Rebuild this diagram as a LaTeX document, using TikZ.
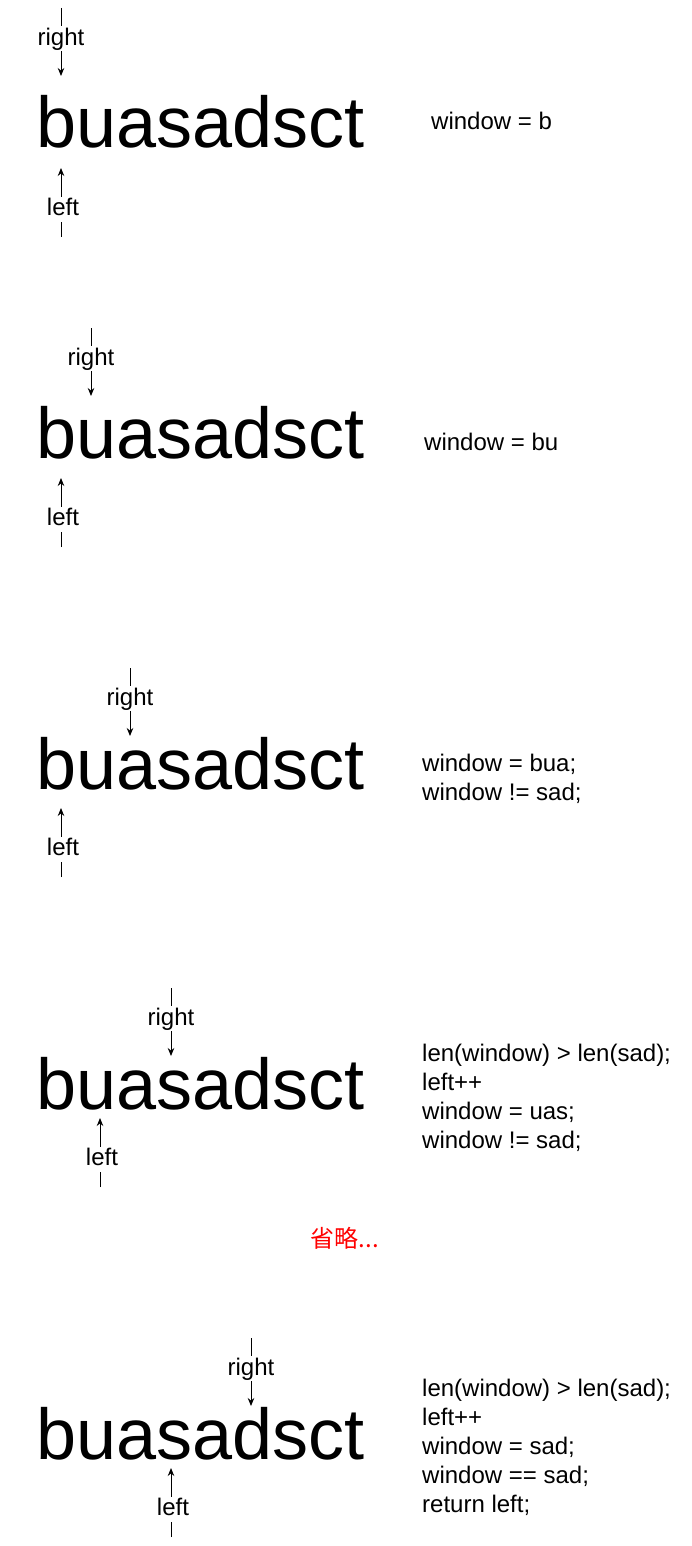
\documentclass[tikz,border=0pt]{standalone}
\usepackage{fontspec}
\setmainfont{Liberation Sans}
\newfontfamily\cjk{Noto Sans CJK SC}
\usetikzlibrary{arrows.meta}

\begin{document}
\begin{tikzpicture}[x=1pt,y=-1pt,
	word/.style={font={\fontsize{72}{86}\selectfont},inner sep=0pt,anchor=base west},
	note/.style={font={\fontsize{24}{28.8}\selectfont},inner sep=0pt,anchor=base west,align=left},
	ptr/.style={-{Stealth[length=8pt,width=6.5pt]},line width=1pt},
	lbl/.style={font={\fontsize{24}{28.8}\selectfont},fill=white,inner sep=0pt,
		text height=19pt,text depth=6pt}]
	
	% page frame
	\useasboundingbox (0,0) rectangle (691,1546);
	
	% the string with its two pointers, one row per step
	\foreach \k/\by/\rx/\rt/\lx/\lt in {1/148/61/8/61/168, 2/458/91/328/61/478,
		3/789/130/668/61/808, 4/1109/171/988/100/1118, 5/1459/251/1338/171/1468} {
		\node[word] (w\k) at (36,\by) {buasadsct};
		\coordinate (rs\k) at (\rx,\rt);
		\coordinate (re\k) at (\rx,\rt+68);
		\coordinate (ls\k) at (\lx,\lt+69);
		\coordinate (le\k) at (\lx,\lt);
		\draw[ptr] (rs\k) -- node[lbl,pos=0.45]{right} (re\k);
		\draw[ptr] (ls\k) -- node[lbl,pos=0.4,xshift=2pt]{left} (le\k);
	}
	
	% window state next to each row (anchored on the last line)
	\node[note] (t1) at (431,130) {window = b};
	\node[note] (t2) at (424,450) {window = bu};
	\node[note] (t3) at (422,800) {window = bua;\\window != sad;};
	\node[note] (t4) at (422,1148)
	{len(window) > len(sad);\\left++\\window = uas;\\window != sad;};
	\node[note] (t5) at (422,1512)
	{len(window) > len(sad);\\left++\\window = sad;\\window == sad;\\return left;};
	
	% skipped steps
	\node[note,text=red,anchor=center] (skip) at (345,1238) {\cjk 省略...};
	
\end{tikzpicture}
\end{document}
